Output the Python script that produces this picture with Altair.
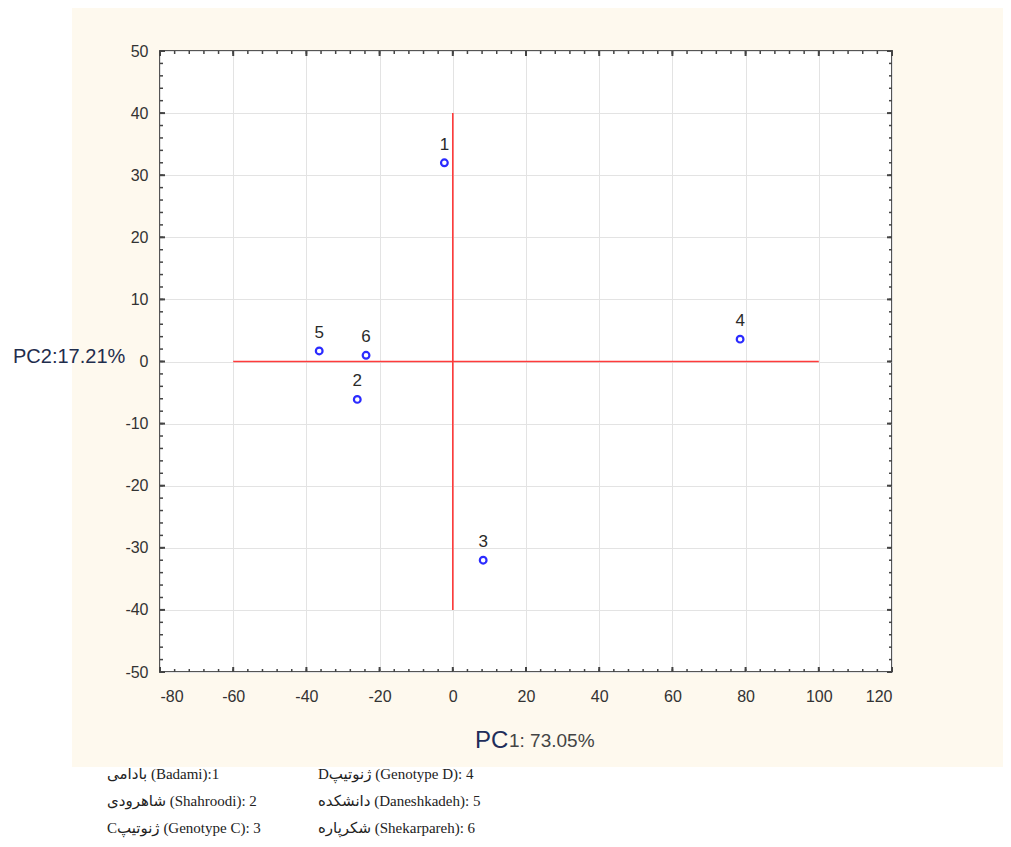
import altair as alt
import pandas as pd

# ---- data ----
ids = ["1", "2", "3", "4", "5", "6"]
pc1 = [-2.3, -26.1, 8.3, 78.5, -36.5, -23.7]
pc2 = [32.0, -6.1, -32.0, 3.6, 1.7, 1.0]

x_major = [-80, -60, -40, -20, 0, 20, 40, 60, 80, 100, 120]
y_major = [-50, -40, -30, -20, -10, 0, 10, 20, 30, 40, 50]
x_minor = list(range(-80, 121, 4))
y_minor = list(range(-50, 51, 2))

hline_x = [-60, 100]   # horizontal red line at PC2 = 0
vline_y = [-40, 40]    # vertical red line at PC1 = 0

legend_col1 = ["بادامی (Badami):1", "شاهرودی (Shahroodi): 2", "Cژنوتیپ (Genotype C): 3"]
legend_col2 = ["Dژنوتیپ (Genotype D): 4", "دانشکده (Daneshkadeh): 5", "شکرپاره (Shekarpareh): 6"]

W, H = 732, 621
SANS = "Liberation Sans, Arial, DejaVu Sans"
SERIF = "Liberation Serif, DejaVu Serif, DejaVu Sans"

pts = pd.DataFrame({"id": ids, "pc1": pc1, "pc2": pc2})
xs = alt.Scale(domain=[-80, 120], nice=False, zero=False)
ys = alt.Scale(domain=[-50, 50], nice=False, zero=False)

one = pd.DataFrame({"a": [0]})

# white page areas outside beige panel
white_left = alt.Chart(one).mark_rect(color="white").encode(
    x=alt.value(-160), x2=alt.value(-88), y=alt.value(-60), y2=alt.value(H + 200))
white_bottom = alt.Chart(one).mark_rect(color="white").encode(
    x=alt.value(-160), x2=alt.value(W + 200), y=alt.value(716), y2=alt.value(H + 200))

base = alt.Chart(pts).mark_point(opacity=0).encode(
    x=alt.X("pc1:Q", scale=xs,
            axis=alt.Axis(values=x_major, title=None, grid=True, gridColor="#e3e3e3",
                          ticks=False, tickSize=0, domain=False, labelFontSize=16,
                          labelColor="#333", labelFont=SANS, labelPadding=16,
                          labelExpr="'' + datum.value")),
    y=alt.Y("pc2:Q", scale=ys,
            axis=alt.Axis(values=y_major, title=None, grid=True, gridColor="#e3e3e3",
                          ticks=False, tickSize=0, domain=False, labelFontSize=16,
                          labelColor="#333", labelFont=SANS, labelPadding=12,
                          labelExpr="'' + datum.value")),
)

# ticks (inward) on all four sides
xt = pd.DataFrame({"v": x_minor})
yt = pd.DataFrame({"v": y_minor})
xtb = pd.DataFrame({"v": x_major})
ytb = pd.DataFrame({"v": y_major})
tick_col = "#444"
ticks = [
    alt.Chart(xt).mark_rule(color=tick_col, strokeWidth=1.5).encode(
        x=alt.X("v:Q", scale=xs), y=alt.value(H), y2=alt.value(H - 3)),
    alt.Chart(xt).mark_rule(color=tick_col, strokeWidth=1.5).encode(
        x=alt.X("v:Q", scale=xs), y=alt.value(0), y2=alt.value(3)),
    alt.Chart(yt).mark_rule(color=tick_col, strokeWidth=1.5).encode(
        y=alt.Y("v:Q", scale=ys), x=alt.value(0), x2=alt.value(3)),
    alt.Chart(yt).mark_rule(color=tick_col, strokeWidth=1.5).encode(
        y=alt.Y("v:Q", scale=ys), x=alt.value(W), x2=alt.value(W - 3)),
    alt.Chart(xtb).mark_rule(color=tick_col, strokeWidth=2).encode(
        x=alt.X("v:Q", scale=xs), y=alt.value(H), y2=alt.value(H - 5)),
    alt.Chart(xtb).mark_rule(color=tick_col, strokeWidth=2).encode(
        x=alt.X("v:Q", scale=xs), y=alt.value(0), y2=alt.value(5)),
    alt.Chart(ytb).mark_rule(color=tick_col, strokeWidth=2).encode(
        y=alt.Y("v:Q", scale=ys), x=alt.value(0), x2=alt.value(5)),
    alt.Chart(ytb).mark_rule(color=tick_col, strokeWidth=2).encode(
        y=alt.Y("v:Q", scale=ys), x=alt.value(W), x2=alt.value(W - 5)),
]

hl = pd.DataFrame({"x1": [hline_x[0]], "x2": [hline_x[1]], "y": [0]})
vl = pd.DataFrame({"y1": [vline_y[0]], "y2": [vline_y[1]], "x": [0]})
red = "#ff3b3b"
hrule = alt.Chart(hl).mark_rule(color=red, strokeWidth=1.6).encode(
    x=alt.X("x1:Q", scale=xs), x2="x2:Q", y=alt.Y("y:Q", scale=ys))
vrule = alt.Chart(vl).mark_rule(color=red, strokeWidth=1.6).encode(
    y=alt.Y("y1:Q", scale=ys), y2="y2:Q", x=alt.X("x:Q", scale=xs))

points = alt.Chart(pts).mark_point(shape="circle", filled=False, color="#2b2bff",
                                   size=45, strokeWidth=2.2, opacity=1).encode(
    x=alt.X("pc1:Q", scale=xs), y=alt.Y("pc2:Q", scale=ys))
labels = alt.Chart(pts).mark_text(dy=-18, fontSize=17, font=SANS, color="#2a2a2a").encode(
    x=alt.X("pc1:Q", scale=xs), y=alt.Y("pc2:Q", scale=ys), text="id:N")

def txt(s, x, y, size, color, font, align="left"):
    return alt.Chart(one).mark_text(text=s, fontSize=size, color=color, font=font,
                                    align=align, baseline="middle").encode(
        x=alt.value(x), y=alt.value(y))

texts = [
    txt("PC2:17.21%", -147, 306, 20, "#1f2d4d", SANS),
    txt("PC", 315, 690, 24, "#1f2d5a", SANS),
    txt("1: 73.05%", 349, 690, 19, "#444", SANS),
]
rows_y = [723, 750, 777]
for i, s in enumerate(legend_col1):
    texts.append(txt(s, -53, rows_y[i], 15, "#222", SERIF))
for i, s in enumerate(legend_col2):
    texts.append(txt(s, 158, rows_y[i], 15, "#222", SERIF))

chart = alt.layer(
    base, white_left, white_bottom, *ticks, hrule, vrule, points, labels, *texts
).properties(
    width=W, height=H,
    padding={"left": 152, "top": 43, "right": 111, "bottom": 170},
    autosize=alt.AutoSizeParams(type="none"),
    background="#fef9ee",
).configure_view(fill="white", stroke="#555", strokeWidth=2)

chart.save("out.html", embed_options={"renderer": "svg", "actions": False})
